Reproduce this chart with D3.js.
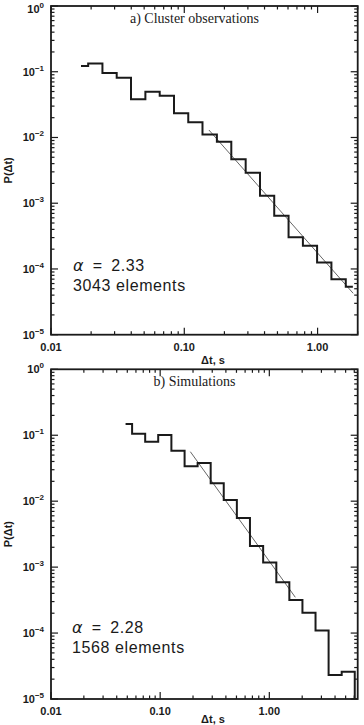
<!DOCTYPE html>
<html>
<head>
<meta charset="utf-8">
<script src="https://cdn.jsdelivr.net/npm/d3@7"></script>
<style>
  body { margin: 0; background: #fff; }
  svg { display: block; }
</style>
</head>
<body>
<svg id="chart" width="364" height="725"></svg>
<script>
// panel a) Cluster observations - bin centres (s) and P(dt)
const obsDt = [0.0168, 0.0215, 0.0275, 0.0352, 0.0451, 0.0578, 0.0740, 0.0948, 0.121, 0.155,
               0.199, 0.255, 0.327, 0.418, 0.535, 0.686, 0.878, 1.12, 1.44, 1.84];
const obsP = [0.122, 0.134, 0.0957, 0.0812, 0.0381, 0.0497, 0.0432, 0.0233, 0.0171, 0.0111,
              0.00862, 0.00466, 0.00291, 0.00130, 0.000646, 0.000303, 0.000226, 0.000125, 0.0000696, 0.0000537];
const obsFit = [[0.153, 0.0130], [1.85, 0.0000426]];

// panel b) Simulations
const simDt = [0.0482, 0.0635, 0.0837, 0.110, 0.146, 0.192, 0.253, 0.333, 0.439, 0.579,
               0.763, 1.01, 1.33, 1.75, 2.31, 3.04, 4.01, 5.28, 6.96];
const simP = [0.148, 0.1055, 0.0798, 0.1009, 0.0583, 0.0338, 0.0379, 0.0187, 0.0104, 0.00556,
              0.00209, 0.00117, 0.000589, 0.000317, 0.000204, 0.000109, 0.0000231, 0.0000260, 0.000001];
const simFit = [[0.189, 0.0563], [1.73, 0.000349]];

const yTickVals = [1e-5, 1e-4, 1e-3, 1e-2, 1e-1, 1];
const yExp = ["\u22125", "\u22124", "\u22123", "\u22122", "\u22121", "0"];
const xTickVals = [0.01, 0.1, 1];
const xTickLabels = ["0.01", "0.10", "1.00"];

const svg = d3.select("#chart");
const ink = "#1a1a1a";

function isDecade(v) {
    const l = Math.log10(v);
    return Math.abs(l - Math.round(l)) < 1e-6;
}

function drawPanel(opt) {
    const left = 51, right = 357.7;
    const top = opt.top, bottom = opt.bottom;

    const x = d3.scaleLog().domain(opt.xDomain).range([left, right]);
    const y = d3.scaleLog().domain([1e-5, 1]).range([bottom, top]);

    const g = svg.append("g");

    const clipId = "clip" + opt.id;
    svg.append("clipPath").attr("id", clipId)
        .append("rect")
        .attr("x", left).attr("y", top)
        .attr("width", right - left).attr("height", bottom - top);

    // minor + major ticks on all four sides, pointing inward
    const xt = x.ticks().filter(v => v >= opt.xDomain[0] && v <= opt.xDomain[1]);
    const yt = y.ticks();

    const tickG = g.append("g").attr("stroke", ink).attr("stroke-width", 1.2);
    xt.forEach(v => {
        const len = isDecade(v) ? 7 : 3.5;
        tickG.append("line").attr("x1", x(v)).attr("x2", x(v)).attr("y1", bottom).attr("y2", bottom - len);
        tickG.append("line").attr("x1", x(v)).attr("x2", x(v)).attr("y1", top).attr("y2", top + len);
    });
    yt.forEach(v => {
        const len = isDecade(v) ? 7 : 3.5;
        tickG.append("line").attr("y1", y(v)).attr("y2", y(v)).attr("x1", left).attr("x2", left + len);
        tickG.append("line").attr("y1", y(v)).attr("y2", y(v)).attr("x1", right).attr("x2", right - len);
    });

    // frame
    g.append("rect")
        .attr("x", left).attr("y", top)
        .attr("width", right - left).attr("height", bottom - top)
        .attr("fill", "none").attr("stroke", ink).attr("stroke-width", 1.8);

    // y tick labels 10^n
    const yl = g.append("g")
        .attr("font-family", "'Liberation Sans', Arial, sans-serif")
        .attr("font-weight", "bold").attr("fill", ink);
    yTickVals.forEach((v, i) => {
        // keep the top label inside the page
        const ty = Math.max(y(v) + 4, 13);
        const t = yl.append("text")
            .attr("x", 44).attr("y", ty)
            .attr("text-anchor", "end")
            .attr("font-size", 11);
        t.append("tspan").text("10");
        t.append("tspan").attr("font-size", 8).attr("dy", -5).text(yExp[i]);
    });

    // x tick labels
    xTickVals.forEach((v, i) => {
        yl.append("text")
            .attr("x", x(v)).attr("y", bottom + 16)
            .attr("text-anchor", "middle")
            .attr("font-size", 11)
            .text(xTickLabels[i]);
    });

    // axis titles
    yl.append("text")
        .attr("x", 213).attr("y", Math.min(bottom + 29, 723))
        .attr("text-anchor", "middle").attr("font-size", 11)
        .text("\u0394t, s");
    yl.append("text")
        .attr("transform", "translate(12," + ((top + bottom) / 2) + ") rotate(-90)")
        .attr("text-anchor", "middle").attr("font-size", 11)
        .text("P(\u0394t)");

    // panel title
    g.append("text")
        .attr("x", 194.5).attr("y", top + 17)
        .attr("text-anchor", "middle")
        .attr("font-family", "'Liberation Serif', 'DejaVu Serif', serif")
        .attr("font-size", 14).attr("fill", ink)
        .text(opt.title);

    // fit line
    g.append("line")
        .attr("x1", x(opt.fit[0][0])).attr("y1", y(opt.fit[0][1]))
        .attr("x2", x(opt.fit[1][0])).attr("y2", y(opt.fit[1][1]))
        .attr("stroke", "#555").attr("stroke-width", 0.9);

    // histogram (IDL psym=10 style steps)
    const line = d3.line()
        .x(d => x(d[0]))
        .y(d => y(d[1]))
        .curve(d3.curveStep);
    g.append("path")
        .datum(opt.dt.map((d, i) => [d, opt.p[i]]))
        .attr("clip-path", "url(#" + clipId + ")")
        .attr("d", line)
        .attr("fill", "none")
        .attr("stroke", ink)
        .attr("stroke-width", 2);

    // annotation
    const ann = g.append("g")
        .attr("font-family", "'Liberation Sans', Arial, sans-serif")
        .attr("font-size", 16).attr("fill", ink)
        .attr("letter-spacing", 0.6);
    const a1 = ann.append("text").attr("x", opt.annX).attr("y", opt.annY);
    a1.append("tspan").attr("font-style", "italic").attr("font-family", "'DejaVu Sans', sans-serif").text("\u03b1");
    a1.append("tspan").text("\u2002=\u2002" + opt.alpha);
    ann.append("text").attr("x", opt.annX).attr("y", opt.annY + 20).text(opt.count + " elements");
}

drawPanel({
    id: "a", top: 6, bottom: 334.7, xDomain: [0.01, 2],
    title: "a) Cluster observations",
    dt: obsDt, p: obsP, fit: obsFit,
    alpha: "2.33", count: "3043", annX: 73, annY: 271
});

drawPanel({
    id: "b", top: 369.3, bottom: 699, xDomain: [0.01, 6.45],
    title: "b) Simulations",
    dt: simDt, p: simP, fit: simFit,
    alpha: "2.28", count: "1568", annX: 72, annY: 633
});
</script>
</body>
</html>
